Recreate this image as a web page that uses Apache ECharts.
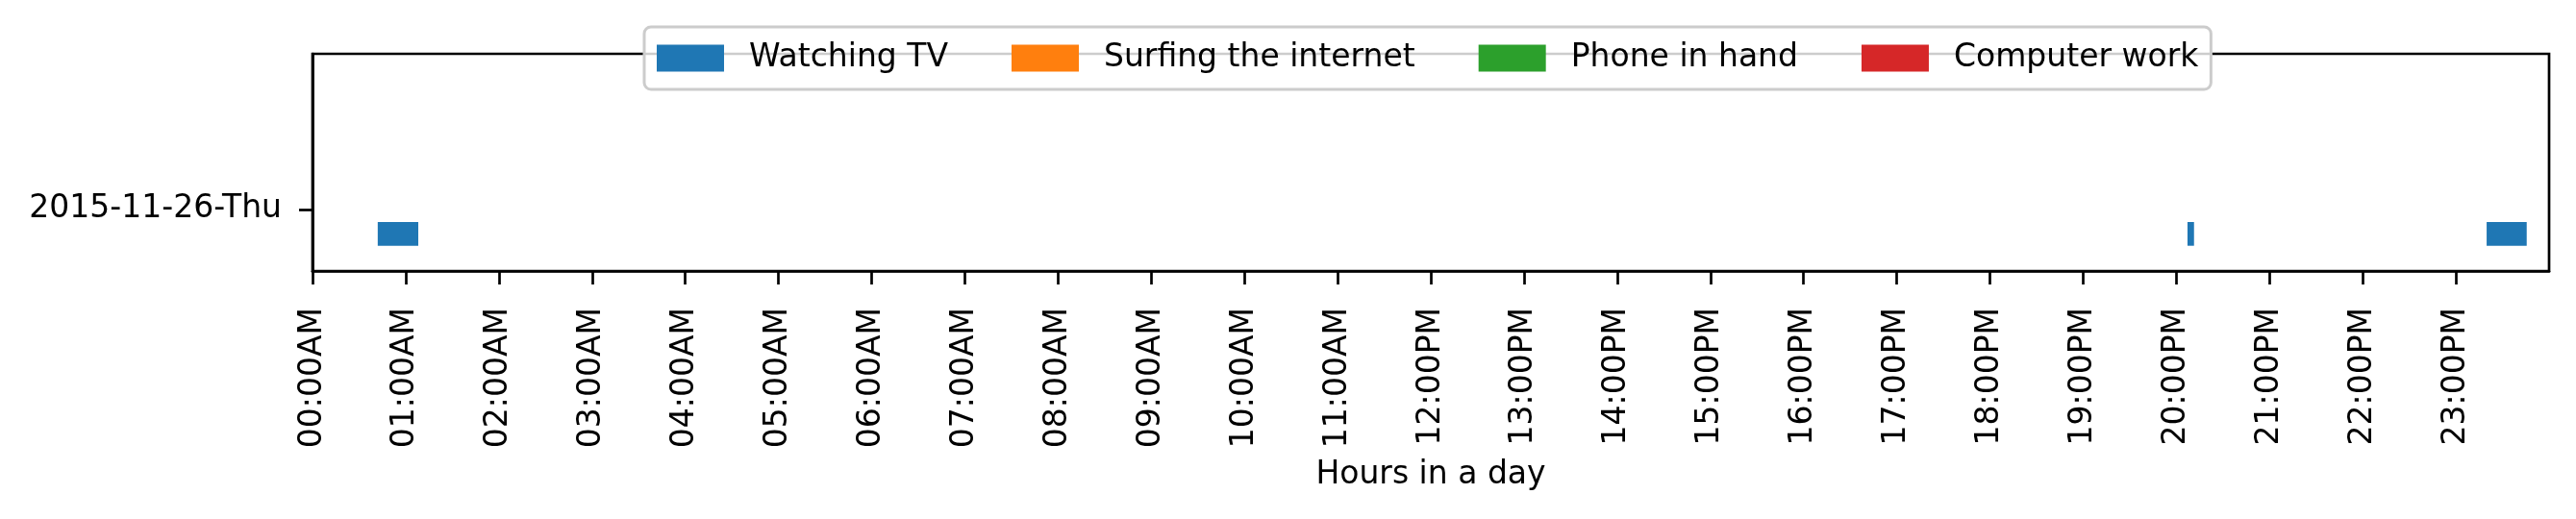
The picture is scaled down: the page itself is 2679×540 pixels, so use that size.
<!DOCTYPE html>
<html>
<head>
<meta charset="utf-8">
<script src="https://cdn.jsdelivr.net/npm/echarts@6/dist/echarts.min.js"></script>
<style>
  html, body { margin: 0; padding: 0; background: #fff; }
  #chart { width: 2679px; height: 540px; }
</style>
</head>
<body>
<div id="chart"></div>
<script>
// activities shown in the legend, with their colours
var activities = ['Watching TV', 'Surfing the internet', 'Phone in hand', 'Computer work'];
var colors = ['#1f77b4', '#ff7f0e', '#2ca02c', '#d62728'];

// one day row
var dayLabel = '2015-11-26-Thu';
var dayTick = 2.6;      // y position of the day tick
var rowBase = 1.065;    // bottom of the bars
var rowHeight = 1.0;
var yMax = 9.15;

// time ranges (hours) per activity
var watchingTV = [[0.70, 1.135], [20.12, 20.19], [23.33, 23.76]];
var surfing = [];
var phone = [];
var computer = [];

var hourTicks = [0,1,2,3,4,5,6,7,8,9,10,11,12,13,14,15,16,17,18,19,20,21,22,23];
var hourLabels = ['00:00AM','01:00AM','02:00AM','03:00AM','04:00AM','05:00AM','06:00AM','07:00AM',
    '08:00AM','09:00AM','10:00AM','11:00AM','12:00PM','13:00PM','14:00PM','15:00PM',
    '16:00PM','17:00PM','18:00PM','19:00PM','20:00PM','21:00PM','22:00PM','23:00PM'];

var font = 'DejaVu Sans';
var fs = 33;

function renderBar(params, api){
    var p0 = api.coord([api.value(0), rowBase + rowHeight]);
    var p1 = api.coord([api.value(1), rowBase]);
    return {
        type: 'rect',
        shape: { x: p0[0], y: p0[1], width: p1[0] - p0[0], height: p1[1] - p0[1] },
        style: { fill: api.visual('color') }
    };
}

var ranges = [watchingTV, surfing, phone, computer];
var series = [];
for (var i = 0; i < activities.length; i++) {
    series.push({
        name: activities[i],
        type: 'custom',
        renderItem: renderBar,
        itemStyle: { color: colors[i] },
        encode: { x: [0, 1] },
        data: ranges[i]
    });
}

var myChart = echarts.init(document.getElementById('chart'));
myChart.setOption({
    animation: false,
    textStyle: { fontFamily: font },
    legend: {
        left: 670,
        top: 28,
        padding: [16, 13, 16, 13],
        itemWidth: 70,
        itemHeight: 28,
        itemGap: 66,
        icon: 'rect',
        backgroundColor: 'rgba(255,255,255,0.8)',
        borderColor: '#cccccc',
        borderWidth: 3,
        borderRadius: 7,
        textStyle: { fontFamily: font, fontSize: fs, color: '#000', padding: [0, 0, 0, 21] },
        data: activities
    },
    grid: {
        left: 325,
        right: 28,
        top: 56,
        bottom: 258,
        show: true,
        borderColor: '#000',
        borderWidth: 2.7,
        backgroundColor: 'transparent'
    },
    xAxis: {
        type: 'value',
        min: 0,
        max: 24,
        interval: 1,
        splitLine: { show: false },
        axisLine: { show: true, lineStyle: { color: '#000', width: 2.7 } },
        axisTick: { show: true, length: 14, lineStyle: { color: '#000', width: 2.7 }, customValues: hourTicks },
        axisLabel: {
            rotate: 90,
            margin: 38,
            fontFamily: font,
            fontSize: fs,
            color: '#000',
            customValues: hourTicks,
            formatter: function (value) {
                return hourLabels[Math.round(value)] || '';
            }
        },
        name: 'Hours in a day',
        nameLocation: 'middle',
        nameGap: 196,
        nameTextStyle: { fontFamily: font, fontSize: fs, color: '#000' }
    },
    yAxis: {
        type: 'value',
        min: 0,
        max: yMax,
        splitLine: { show: false },
        axisLine: { show: true, lineStyle: { color: '#000', width: 2.7 } },
        axisTick: { show: true, length: 14, lineStyle: { color: '#000', width: 2.7 }, customValues: [dayTick] },
        axisLabel: {
            margin: 32,
            fontFamily: font,
            fontSize: fs,
            color: '#000',
            customValues: [dayTick],
            formatter: function () { return dayLabel; }
        }
    },
    series: series
});
</script>
</body>
</html>
